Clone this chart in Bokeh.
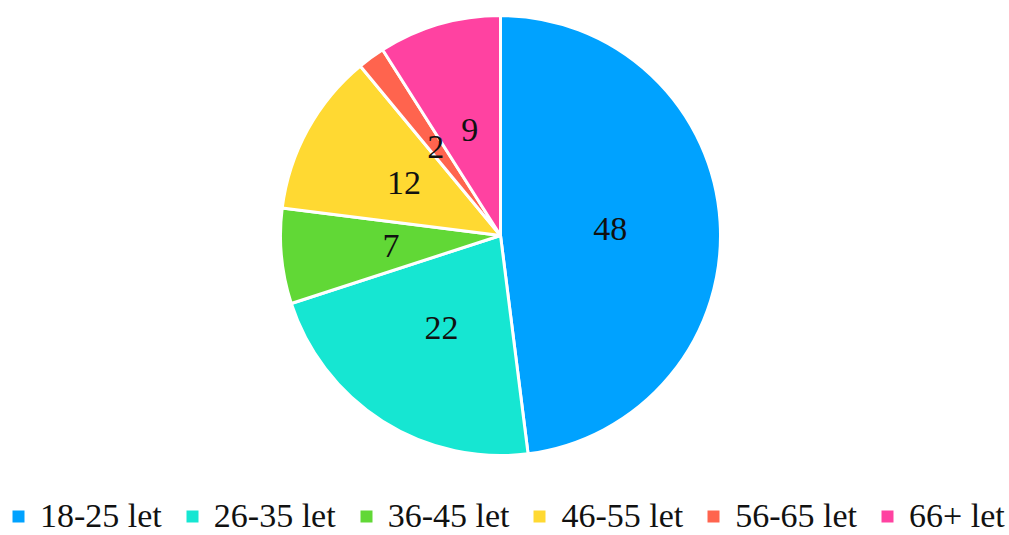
import math
from bokeh.plotting import figure
from bokeh.models import ColumnDataSource, Legend, LegendItem
from bokeh.core.properties import value
from bokeh.embed import file_html
from bokeh.resources import INLINE

categories = ["18-25 let", "26-35 let", "36-45 let", "46-55 let", "56-65 let", "66+ let"]
values = [48, 22, 7, 12, 2, 9]
colors = ["#00A2FF", "#16E6D2", "#61D836", "#FFD932", "#FF644E", "#FF42A1"]

W, H = 1009, 535
cx, cy, r = 500, H - 235, 220

total = sum(values)
starts, ends, lx, ly = [], [], [], []
cum = 0.0
for v in values:
    a0 = math.pi / 2 - cum / total * 2 * math.pi
    cum += v
    a1 = math.pi / 2 - cum / total * 2 * math.pi
    starts.append(a0)
    ends.append(a1)
    mid = (a0 + a1) / 2
    lx.append(cx + 0.5 * r * math.cos(mid))
    ly.append(cy + 0.5 * r * math.sin(mid))

src = ColumnDataSource(dict(cat=categories, val=values, color=colors,
                            start=starts, end=ends, lx=lx, ly=ly,
                            txt=[str(v) for v in values]))

p = figure(width=W, height=H, x_range=(0, W), y_range=(0, H),
           output_backend="svg", toolbar_location=None,
           min_border=0, outline_line_color=None)
p.axis.visible = False
p.grid.visible = False

p.wedge(x=cx, y=cy, radius=r, start_angle="start", end_angle="end",
        direction="clock", fill_color="color", line_color="white",
        line_width=3, source=src)
p.text(x="lx", y="ly", text="txt", source=src, text_align="center",
       text_baseline="middle", text_font=value("Liberation Serif"),
       text_font_size="34px", text_color="#111111")

nan = float("nan")
items = []
for c, col in zip(categories, colors):
    rr = p.scatter(x=[nan], y=[nan], marker="square", size=12,
                   fill_color=col, line_color=None)
    items.append(LegendItem(label=c, renderers=[rr]))

legend = Legend(items=items, orientation="horizontal", location=(3, 0),
                label_text_font="Liberation Serif", label_text_font_size="34px",
                label_text_color="#111111", glyph_width=30, glyph_height=30,
                label_standoff=7, spacing=15, padding=0, margin=0,
                border_line_color=None, background_fill_alpha=0)
p.add_layout(legend, "center")

open("out.html", "w").write(file_html(p, INLINE))
